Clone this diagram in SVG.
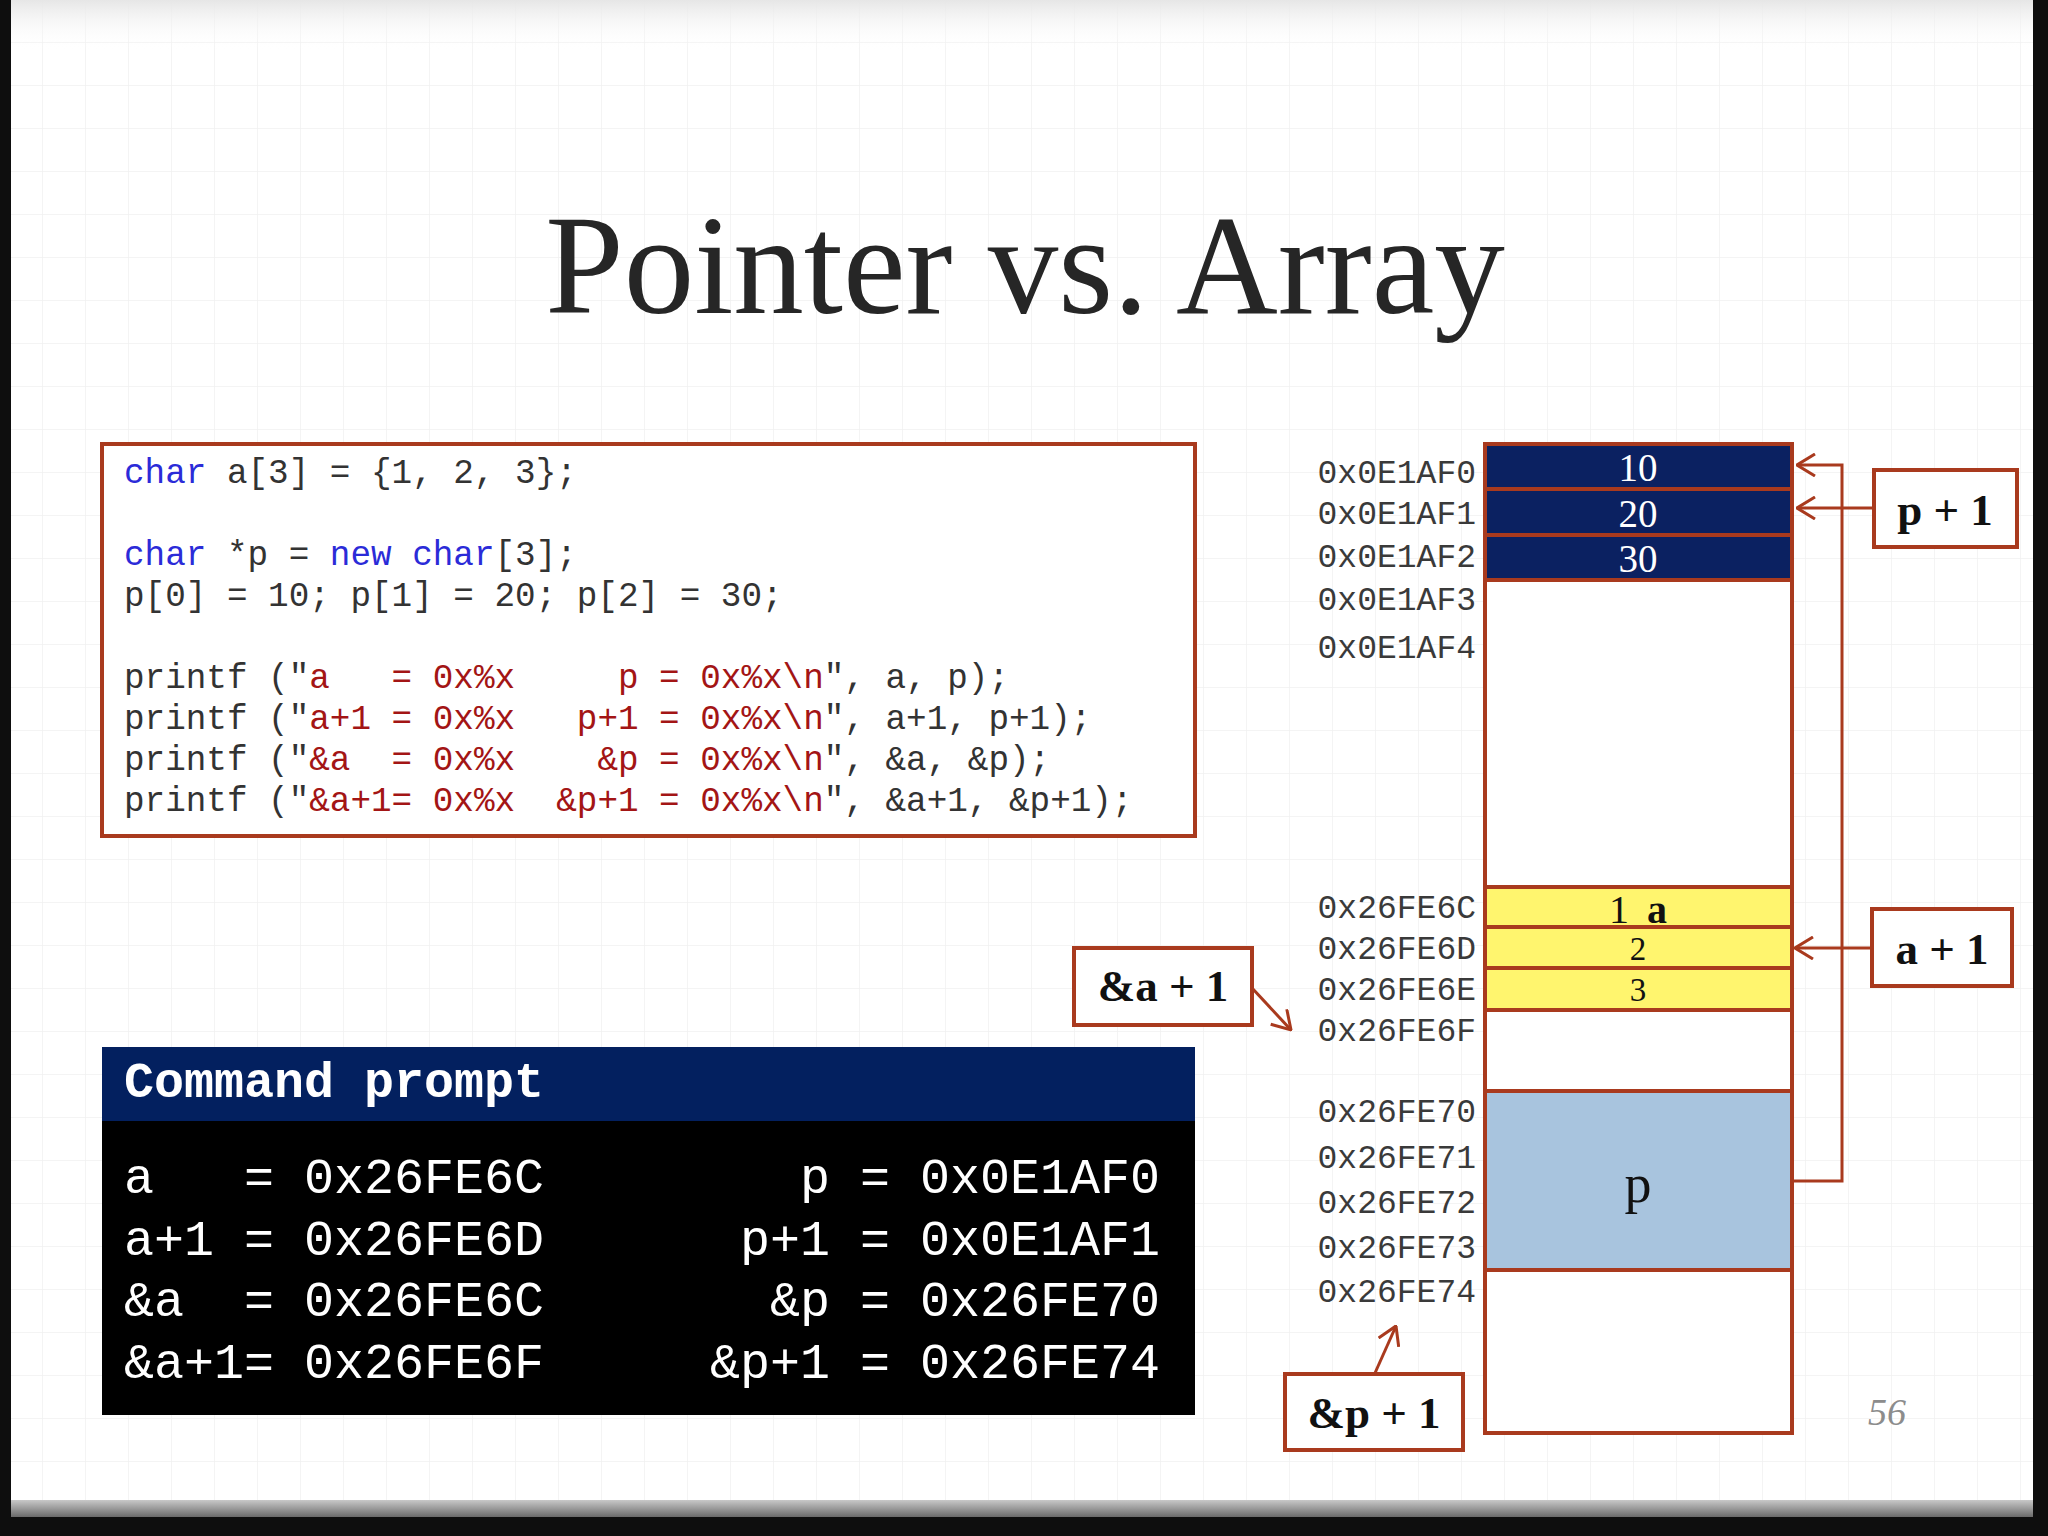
<svg xmlns="http://www.w3.org/2000/svg" width="2048" height="1536" viewBox="0 0 2048 1536">
<defs>
<pattern id="grid" width="43" height="43" patternUnits="userSpaceOnUse">
<path d="M43 0 V43 M0 43 H43" fill="none" stroke="#F1F1F1" stroke-width="1.5"/>
</pattern>
<linearGradient id="topfade" x1="0" y1="0" x2="0" y2="1">
<stop offset="0" stop-color="#E6E6E6"/>
<stop offset="1" stop-color="#FFFFFF" stop-opacity="0"/>
</linearGradient>
<linearGradient id="bottomband" x1="0" y1="0" x2="0" y2="1">
<stop offset="0" stop-color="#C8C8C8"/>
<stop offset="0.5" stop-color="#9A9A9A"/>
<stop offset="1" stop-color="#6A6A6A"/>
</linearGradient>
<marker id="chev" viewBox="0 0 20 24" refX="19" refY="12" markerWidth="20" markerHeight="24" markerUnits="userSpaceOnUse" orient="auto">
<path d="M1 1 L19 12 L1 23" fill="none" stroke="#A93A1E" stroke-width="3"/>
</marker>
<style>
.code{font-family:"Liberation Mono","Courier New",monospace;font-size:34.3px;fill:#333333}
.kw{fill:#2B2BD8}
.str{fill:#A31515}
.cmd{font-family:"Liberation Mono","Courier New",monospace;font-size:50px;fill:#FFFFFF}
.addr{font-family:"Liberation Mono","Courier New",monospace;font-size:33px;fill:#3A3A3A;text-anchor:end}
.cell{stroke:#A93A1E;stroke-width:4}
.lbl{fill:#FFFFFF;stroke:#A93A1E;stroke-width:4}
.lbltxt{font-family:"Liberation Serif","Times New Roman",serif;font-weight:bold;font-size:45px;fill:#111111;text-anchor:middle}
.num{font-family:"Liberation Serif","Times New Roman",serif;text-anchor:middle}
.conn{fill:none;stroke:#A93A1E;stroke-width:3;marker-end:url(#chev)}
</style>
</defs>

<!-- page background -->
<rect x="0" y="0" width="2048" height="1536" fill="#0E0E0E"/>
<rect x="11" y="0" width="2022" height="1500" fill="#FFFFFF"/>
<rect x="11" y="0" width="2022" height="1500" fill="url(#grid)"/>
<rect x="11" y="0" width="2022" height="50" fill="url(#topfade)"/>
<rect x="11" y="1500" width="2022" height="17" fill="url(#bottomband)"/>

<!-- title -->
<text id="title" x="1025" y="313" font-family="Liberation Serif, Times New Roman, serif" font-size="141" fill="#262626" text-anchor="middle">Pointer vs. Array</text>

<!-- code box -->
<g id="code">
<rect x="102" y="444" width="1093" height="392" fill="#FFFFFF" stroke="#A93A1E" stroke-width="4"/>
<text class="code" x="124" y="483" xml:space="preserve"><tspan class="kw">char</tspan> a[3] = {1, 2, 3};</text>
<text class="code" x="124" y="565" xml:space="preserve"><tspan class="kw">char</tspan> *p = <tspan class="kw">new</tspan> <tspan class="kw">char</tspan>[3];</text>
<text class="code" x="124" y="606" xml:space="preserve">p[0] = 10; p[1] = 20; p[2] = 30;</text>
<text class="code" x="124" y="688" xml:space="preserve">printf ("<tspan class="str">a   = 0x%x     p = 0x%x\n</tspan>", a, p);</text>
<text class="code" x="124" y="729" xml:space="preserve">printf ("<tspan class="str">a+1 = 0x%x   p+1 = 0x%x\n</tspan>", a+1, p+1);</text>
<text class="code" x="124" y="770" xml:space="preserve">printf ("<tspan class="str">&amp;a  = 0x%x    &amp;p = 0x%x\n</tspan>", &amp;a, &amp;p);</text>
<text class="code" x="124" y="811" xml:space="preserve">printf ("<tspan class="str">&amp;a+1= 0x%x  &amp;p+1 = 0x%x\n</tspan>", &amp;a+1, &amp;p+1);</text>
</g>

<!-- command prompt -->
<g id="cmdprompt">
<rect x="102" y="1047" width="1093" height="368" fill="#000000"/>
<rect x="102" y="1047" width="1093" height="74" fill="#03205F"/>
<text class="cmd" x="124" y="1097" font-weight="bold" font-size="51">Command prompt</text>
<text class="cmd" x="124" y="1193" xml:space="preserve">a   = 0x26FE6C</text>
<text class="cmd" x="124" y="1255" xml:space="preserve">a+1 = 0x26FE6D</text>
<text class="cmd" x="124" y="1316" xml:space="preserve">&amp;a  = 0x26FE6C</text>
<text class="cmd" x="124" y="1378" xml:space="preserve">&amp;a+1= 0x26FE6F</text>
<text class="cmd" x="1160" y="1193" text-anchor="end" xml:space="preserve">p = 0x0E1AF0</text>
<text class="cmd" x="1160" y="1255" text-anchor="end" xml:space="preserve">p+1 = 0x0E1AF1</text>
<text class="cmd" x="1160" y="1316" text-anchor="end" xml:space="preserve">&amp;p = 0x26FE70</text>
<text class="cmd" x="1160" y="1378" text-anchor="end" xml:space="preserve">&amp;p+1 = 0x26FE74</text>
</g>

<!-- memory column -->
<g id="memory">
<rect x="1485" y="444" width="307" height="989" fill="#FFFFFF" stroke="#A93A1E" stroke-width="4"/>
<rect class="cell" x="1485" y="444" width="307" height="45" fill="#0B2161"/>
<rect class="cell" x="1485" y="489" width="307" height="46" fill="#0B2161"/>
<rect class="cell" x="1485" y="535" width="307" height="45" fill="#0B2161"/>
<rect class="cell" x="1485" y="887" width="307" height="40" fill="#FFF56E"/>
<rect class="cell" x="1485" y="927" width="307" height="41" fill="#FFF56E"/>
<rect class="cell" x="1485" y="968" width="307" height="42" fill="#FFF56E"/>
<rect class="cell" x="1485" y="1091" width="307" height="179" fill="#A8C4DE"/>
<text class="num" x="1638" y="481" font-size="39" fill="#FFFFFF">10</text>
<text class="num" x="1638" y="527" font-size="39" fill="#FFFFFF">20</text>
<text class="num" x="1638" y="572" font-size="39" fill="#FFFFFF">30</text>
<text class="num" x="1619" y="923" font-size="40" fill="#111111">1</text>
<text class="num" x="1657" y="923" font-size="40" font-weight="bold" fill="#111111">a</text>
<text class="num" x="1638" y="960" font-size="33" fill="#111111">2</text>
<text class="num" x="1638" y="1001" font-size="33" fill="#111111">3</text>
<text class="num" x="1638" y="1202" font-size="54" fill="#111111">p</text>
</g>

<g id="addresses">
<text class="addr" x="1476" y="483">0x0E1AF0</text>
<text class="addr" x="1476" y="524">0x0E1AF1</text>
<text class="addr" x="1476" y="567">0x0E1AF2</text>
<text class="addr" x="1476" y="610">0x0E1AF3</text>
<text class="addr" x="1476" y="658">0x0E1AF4</text>
<text class="addr" x="1476" y="918">0x26FE6C</text>
<text class="addr" x="1476" y="959">0x26FE6D</text>
<text class="addr" x="1476" y="1000">0x26FE6E</text>
<text class="addr" x="1476" y="1041">0x26FE6F</text>
<text class="addr" x="1476" y="1122">0x26FE70</text>
<text class="addr" x="1476" y="1168">0x26FE71</text>
<text class="addr" x="1476" y="1213">0x26FE72</text>
<text class="addr" x="1476" y="1258">0x26FE73</text>
<text class="addr" x="1476" y="1302">0x26FE74</text>
</g>

<!-- label nodes -->
<g id="label-p1">
<rect class="lbl" x="1874" y="470" width="143" height="77"/>
<text class="lbltxt" x="1945" y="525">p + 1</text>
</g>
<g id="label-a1">
<rect class="lbl" x="1872" y="909" width="140" height="77"/>
<text class="lbltxt" x="1942" y="964">a + 1</text>
</g>
<g id="label-amp-a1">
<rect class="lbl" x="1074" y="948" width="178" height="77"/>
<text class="lbltxt" x="1163" y="1001">&amp;a + 1</text>
</g>
<g id="label-amp-p1">
<rect class="lbl" x="1285" y="1374" width="178" height="76"/>
<text class="lbltxt" x="1374" y="1428">&amp;p + 1</text>
</g>

<!-- connectors -->
<g id="connectors">
<path class="conn" d="M1792 1181 H1842 V465 H1797"/>
<path class="conn" d="M1874 508 H1797"/>
<path class="conn" d="M1872 948 H1795"/>
<path class="conn" d="M1252 988 L1291 1030"/>
<path class="conn" d="M1375 1373 L1396 1326"/>
</g>

<text id="pagenum" x="1887" y="1425" font-family="Liberation Serif, Times New Roman, serif" font-style="italic" font-size="38" fill="#8C8C8C" text-anchor="middle">56</text>
</svg>
